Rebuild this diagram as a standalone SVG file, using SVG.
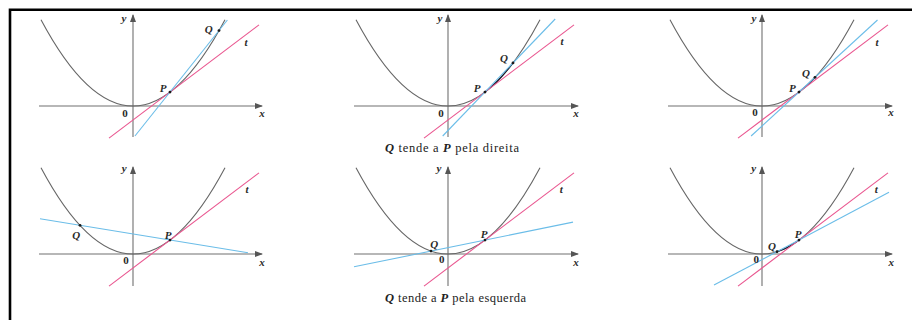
<svg xmlns="http://www.w3.org/2000/svg" width="912" height="320" viewBox="0 0 912 320">
<defs>
<marker id="ah" viewBox="0 0 8 6" refX="7" refY="3" markerWidth="8" markerHeight="6" markerUnits="userSpaceOnUse" orient="auto">
<path d="M0,0 L8,3 L0,6 Z" fill="#555"/>
</marker>
</defs>
<style>
.ax{stroke:#707070;stroke-width:1.1;fill:none}
.cv{stroke:#666;stroke-width:1.1;fill:none}
.seg{stroke:#1a1a2a;stroke-width:1.3;fill:none}
.tg{stroke:#e9558f;stroke-width:1.1;fill:none}
.sc{stroke:#6bbde8;stroke-width:1.1;fill:none}
.pt{fill:#1a1a1a}
.lb{font-family:"Liberation Serif",serif;font-style:italic;font-weight:bold;font-size:11px;fill:#2a2a2a;text-anchor:middle}
.zr{font-family:"Liberation Serif",serif;font-weight:bold;font-size:11px;fill:#2a2a2a;text-anchor:middle}
.cap{font-family:"Liberation Serif",serif;font-size:12.5px;fill:#222}
.it{font-style:italic;font-weight:bold}
</style>
<path d="M10,320 V9.7 H912" fill="none" stroke="#000" stroke-width="2.6"/>

<g id="panel1">
<path class="ax" d="M39,106 H262" marker-end="url(#ah)"/>
<path class="ax" d="M133,137 V15" marker-end="url(#ah)"/>
<path class="cv" d="M41,19.67 Q133,192.33 225,19.67"/>
<path class="tg" d="M109,138.08 L259,24.86"/>
<path class="sc" d="M134.96,136 L227.4,20"/>
<circle class="pt" cx="170" cy="92.04" r="1.4"/>
<circle class="pt" cx="219" cy="30.56" r="1.4"/>
<text class="lb" x="208.7" y="33">Q</text>
<text class="lb" x="163" y="92">P</text>
<text class="lb" x="246" y="46">t</text>
<text class="zr" x="125" y="116.5">0</text>
<text class="lb" x="124" y="22">y</text>
<text class="lb" x="262" y="117">x</text>
</g>

<g id="panel2">
<path class="ax" d="M354,106 H578" marker-end="url(#ah)"/>
<path class="ax" d="M448,137 V15" marker-end="url(#ah)"/>
<path class="cv" d="M356,19.67 Q448,192.33 540,19.67"/>
<path class="seg" d="M485,92.04 Q499,81.47 513,62.9"/>
<path class="tg" d="M424,138.08 L574,24.86"/>
<path class="sc" d="M442.7,136 L555.2,19"/>
<circle class="pt" cx="485" cy="92.04" r="1.4"/>
<circle class="pt" cx="513" cy="62.9" r="1.4"/>
<text class="lb" x="504" y="62">Q</text>
<text class="lb" x="477" y="91.5">P</text>
<text class="lb" x="562" y="45">t</text>
<text class="zr" x="441" y="116.5">0</text>
<text class="lb" x="440" y="22">y</text>
<text class="lb" x="576" y="117">x</text>
<text class="cap" x="385" y="152" textLength="134" lengthAdjust="spacing"><tspan class="it">Q</tspan> tende a <tspan class="it">P</tspan> pela direita</text>
</g>

<g id="panel3">
<path class="ax" d="M668,106 H892" marker-end="url(#ah)"/>
<path class="ax" d="M762,137 V15" marker-end="url(#ah)"/>
<path class="cv" d="M670,19.67 Q762,192.33 854,19.67"/>
<path class="seg" d="M799,92.04 Q807,86 815,77.35"/>
<path class="tg" d="M738,138.08 L888,24.86"/>
<path class="sc" d="M751.1,136 L877.5,20"/>
<circle class="pt" cx="799" cy="92.04" r="1.4"/>
<circle class="pt" cx="815" cy="77.35" r="1.4"/>
<text class="lb" x="806" y="77">Q</text>
<text class="lb" x="792.3" y="91.5">P</text>
<text class="lb" x="877" y="45.5">t</text>
<text class="zr" x="755" y="116">0</text>
<text class="lb" x="754" y="22">y</text>
<text class="lb" x="891" y="116">x</text>
</g>

<g id="panel4">
<path class="ax" d="M39,254 H262" marker-end="url(#ah)"/>
<path class="ax" d="M133,286 V167" marker-end="url(#ah)"/>
<path class="cv" d="M41,167.67 Q133,340.33 225,167.67"/>
<path class="tg" d="M109,286.08 L259,172.86"/>
<path class="sc" d="M40,218.8 L248,252.8"/>
<circle class="pt" cx="170" cy="240.04" r="1.4"/>
<circle class="pt" cx="80" cy="225.35" r="1.4"/>
<text class="lb" x="76.3" y="238.5">Q</text>
<text class="lb" x="168" y="238.5">P</text>
<text class="lb" x="247" y="193">t</text>
<text class="zr" x="126" y="263.5">0</text>
<text class="lb" x="124.3" y="172">y</text>
<text class="lb" x="262" y="266">x</text>
</g>

<g id="panel5">
<path class="ax" d="M354,254 H578" marker-end="url(#ah)"/>
<path class="ax" d="M448,286 V167" marker-end="url(#ah)"/>
<path class="cv" d="M356,167.67 Q448,340.33 540,167.67"/>
<path class="tg" d="M424,286.08 L574,172.86"/>
<path class="sc" d="M354,266.8 L573,222.1"/>
<circle class="pt" cx="485" cy="240.04" r="1.4"/>
<circle class="pt" cx="431" cy="251.05" r="1.4"/>
<text class="lb" x="434.3" y="247.5">Q</text>
<text class="lb" x="484" y="237.5">P</text>
<text class="lb" x="561.3" y="193">t</text>
<text class="zr" x="441.7" y="263">0</text>
<text class="lb" x="439" y="171.5">y</text>
<text class="lb" x="576" y="265.5">x</text>
<text class="cap" x="385" y="302" textLength="141" lengthAdjust="spacing"><tspan class="it">Q</tspan> tende a <tspan class="it">P</tspan> pela esquerda</text>
</g>

<g id="panel6">
<path class="ax" d="M668,254 H892" marker-end="url(#ah)"/>
<path class="ax" d="M762,286 V167" marker-end="url(#ah)"/>
<path class="cv" d="M670,167.67 Q762,340.33 854,167.67"/>
<path class="seg" d="M777,251.7 Q788,248.34 799,240.04"/>
<path class="tg" d="M738,286.08 L888,172.86"/>
<path class="sc" d="M714,285.1 L889,192.3"/>
<circle class="pt" cx="799" cy="240.04" r="1.4"/>
<circle class="pt" cx="777" cy="251.7" r="1.4"/>
<text class="lb" x="772" y="249.5">Q</text>
<text class="lb" x="798" y="238">P</text>
<text class="lb" x="876.3" y="193">t</text>
<text class="zr" x="756.3" y="263">0</text>
<text class="lb" x="753.7" y="172">y</text>
<text class="lb" x="891.3" y="266">x</text>
</g>
</svg>
